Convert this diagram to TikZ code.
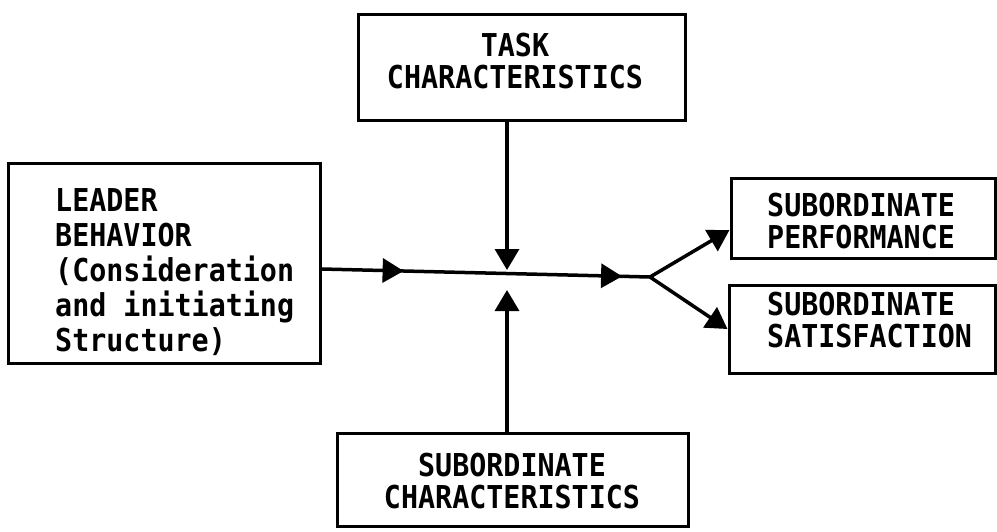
\documentclass[tikz,border=0pt]{standalone}
\usepackage{fontspec}
\newfontfamily\diagfont{DejaVu Sans Mono}[FakeStretch=0.9]
\usetikzlibrary{arrows.meta,decorations.markings}
\begin{document}
\begin{tikzpicture}[x=1pt,y=-1pt,
  box/.style={draw,line width=3pt,inner sep=0pt},
  txt/.style={inner sep=0pt,font=\diagfont\bfseries\fontsize{31.5}{32}\selectfont},
  conn/.style={line width=3.5pt,line join=round},
  tip/.style={-{Triangle[length=21pt,width=24pt]}},
  midtips/.style={decoration={markings,
    mark=at position 0.25 with {\arrow{Triangle[length=21pt,width=24pt]}},
    mark=at position 0.915 with {\arrow{Triangle[length=21pt,width=24pt]}}},
    postaction={decorate}}]
\useasboundingbox (0,0) rectangle (997,531);
\node[box,minimum width=327pt,minimum height=106pt] (T) at (521.5,67) {};
\node[txt,anchor=north,align=center] (Tt) at (515,33) {TASK\\CHARACTERISTICS};
\node[box,minimum width=312pt,minimum height=200pt] (L) at (164,263) {};
\node[txt,anchor=north west,align=left,font=\diagfont\bfseries\fontsize{31.5}{35}\selectfont] (Lt) at (55,188) {LEADER\\BEHAVIOR\\(Consideration\\and initiating\\Structure)};
\node[box,minimum width=264pt,minimum height=80pt] (P) at (863,218) {};
\node[txt,anchor=north west,align=left] (Pt) at (767,193) {SUBORDINATE\\PERFORMANCE};
\node[box,minimum width=266pt,minimum height=88pt] (S) at (862,329) {};
\node[txt,anchor=north west,align=left] (St) at (767,292) {SUBORDINATE\\SATISFACTION};
\node[box,minimum width=351pt,minimum height=93pt] (C) at (512.5,479.5) {};
\node[txt,anchor=north,align=center] (Ct) at (512,453) {SUBORDINATE\\CHARACTERISTICS};
\coordinate (d) at (507,270);
\coordinate (u) at (507,290);
\coordinate (fork) at (650,277);
\draw[conn,tip] (T.south -| d) -- (d);
\draw[conn,tip] (C.north -| u) -- (u);
\draw[conn,midtips] ([yshift=-6pt]L.east) -- (fork);
\draw[conn,tip] (fork) -- ([yshift=-12pt]P.west);
\draw[conn,tip] (fork) -- (S.west);
\end{tikzpicture}
\end{document}
